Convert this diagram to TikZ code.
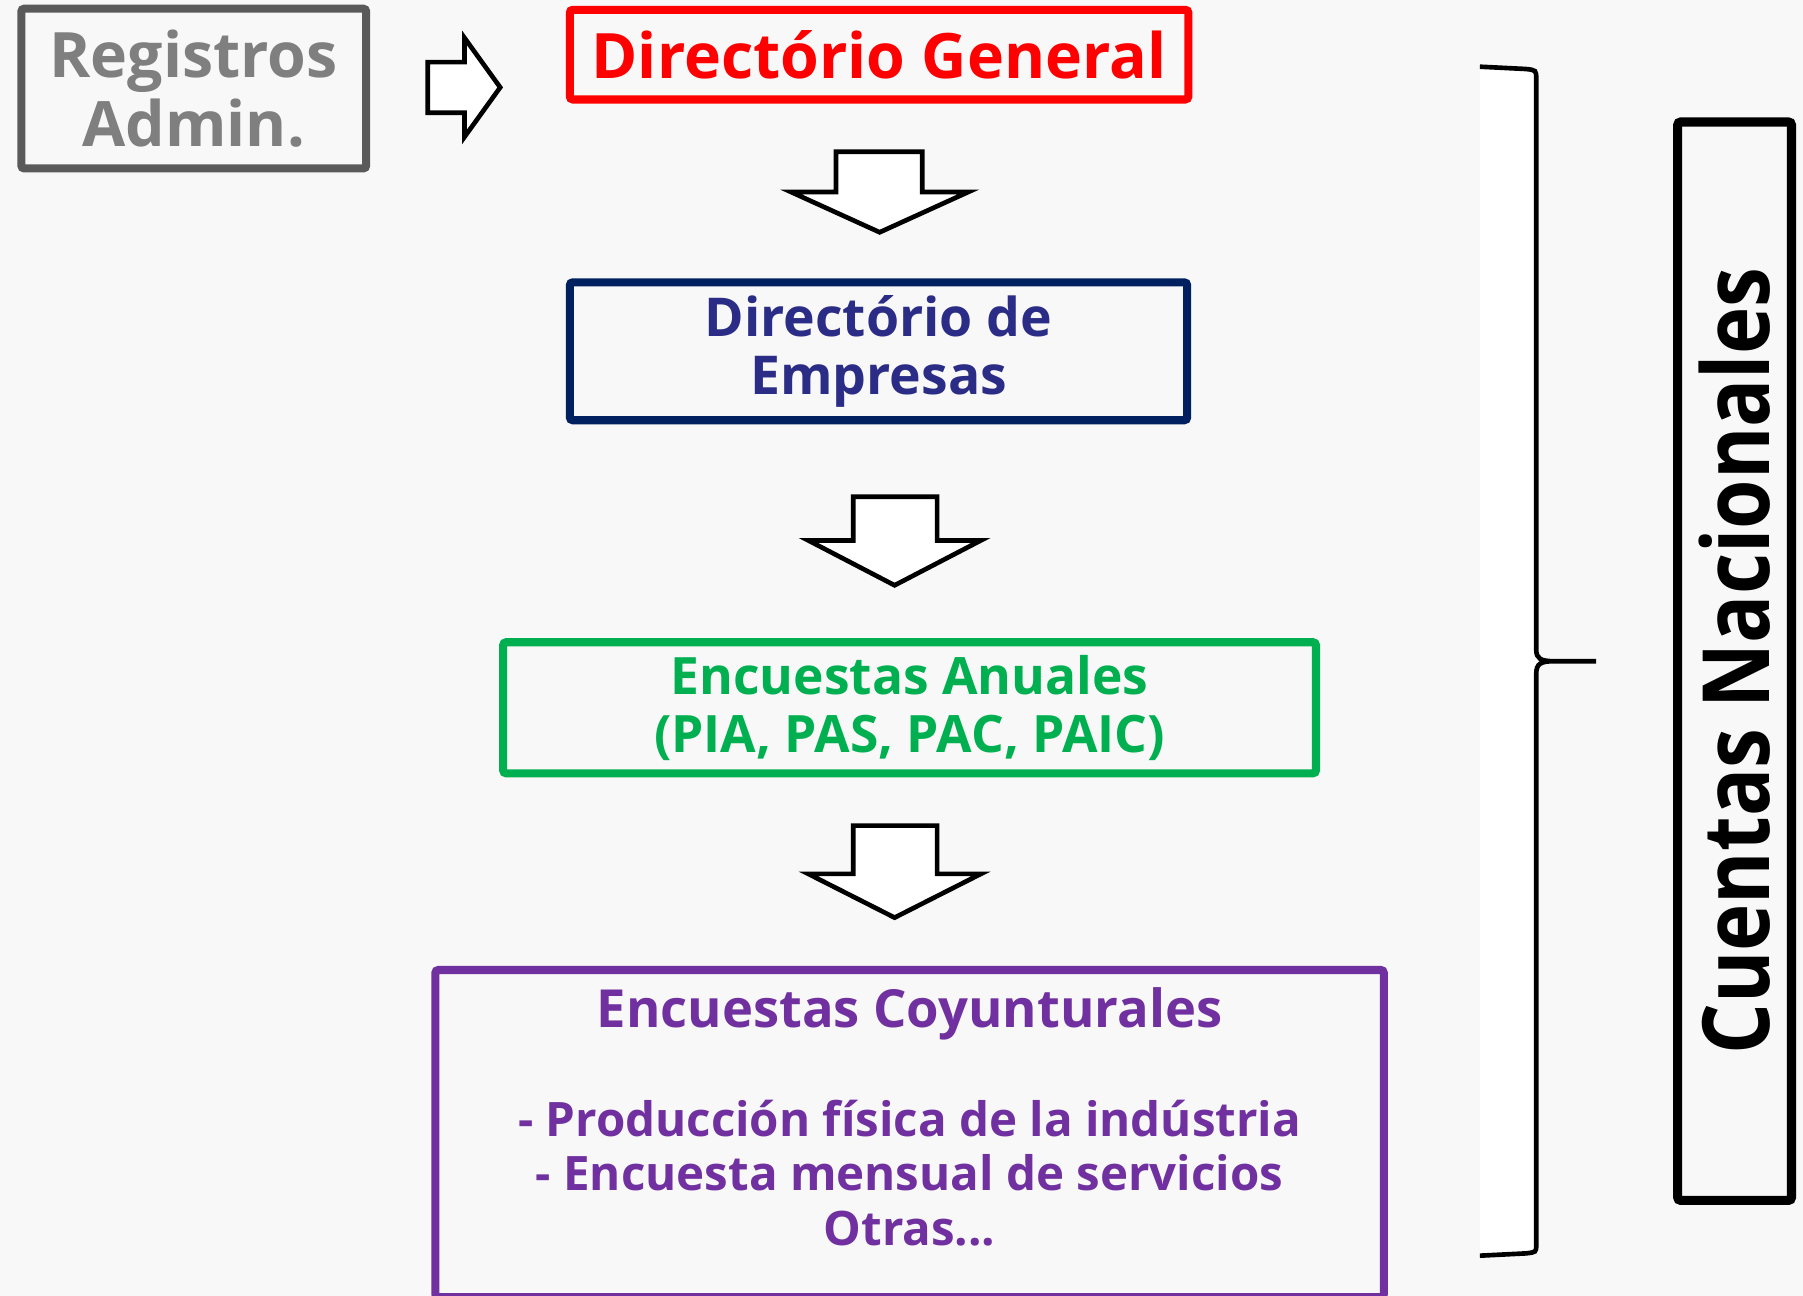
\documentclass[tikz,border=0pt]{standalone}
\usepackage{fontspec}
\setmainfont{Open Sans}
\newfontfamily\narrowfont[FakeStretch=0.86]{Open Sans}
\usetikzlibrary{positioning}
\definecolor{bgcol}{HTML}{F8F8F8}
\definecolor{regline}{HTML}{5A5A5A}
\definecolor{regtext}{HTML}{7F7F7F}
\definecolor{navyline}{HTML}{002060}
\definecolor{navytext}{HTML}{2A2C86}
\definecolor{anugreen}{HTML}{00B050}
\definecolor{coypurple}{HTML}{7030A0}

\begin{document}
\begin{tikzpicture}[x=0.02cm, y=-0.02cm,
    box/.style={draw, line width=4pt, rounded corners=1.5pt, align=center, inner sep=0pt, font=\bfseries},
    hollow/.style={draw=black, line width=2.3pt, fill=white, line join=miter}]
    % background
    \fill[bgcol] (0,0) rectangle (1568,1127);
    \useasboundingbox (0,0) rectangle (1568,1127);

    % boxes
    \draw (168.5,77) node[box, draw=regline, text=regtext, minimum width=6cm, minimum height=2.78cm,
        font=\bfseries\fontsize{31}{34}\selectfont] (reg) {Registros\\Admin.};
    \draw (764.5,47.5) node[box, draw=red, text=red, minimum width=10.76cm, minimum height=1.56cm,
        font=\bfseries\fontsize{31}{34}\selectfont] (dirgen) {Directório General};
    \draw (764,305.5) node[box, draw=navyline, text=navytext, minimum width=10.74cm, minimum height=2.4cm,
        font=\bfseries\fontsize{26.5}{28.5}\selectfont] (dirend) {Directório de\\Empresas};
    \draw (791,615.5) node[box, draw=anugreen, text=anugreen, minimum width=14.14cm, minimum height=2.28cm,
        font=\bfseries\fontsize{25.5}{28.5}\selectfont] (encanu) {Encuestas Anuales\\(PIA, PAS, PAC, PAIC)};
    \draw (791,985.75) node[box, draw=coypurple, minimum width=16.5cm, minimum height=5.69cm] (enccoy) {};
    \node[below=0.25cm of enccoy.north, align=center, text=coypurple, font=\bfseries\fontsize{23.5}{27}\selectfont] (coytext)
        {{\fontsize{26}{27}\selectfont Encuestas Coyunturales}\\[27pt]
         - Producción física de la indústria\\
         - Encuesta mensual de servicios\\
         Otras...};
    \draw (1508.5,575) node[box, draw=black, line width=4.5pt, minimum width=1.98cm, minimum height=18.76cm] (cuentas) {};
    \node[rotate=90, font=\narrowfont\bfseries\fontsize{46}{50}\selectfont] (cuentastext) at (cuentas.center) {Cuentas Nacionales};

    % block arrows
    \draw[hollow] (372,54) -- (404,54) -- (404,33) -- (435,76) -- (404,119) -- (404,98) -- (372,98) -- cycle;
    \draw[hollow] (727,132) -- (802,132) -- (802,167) -- (842,167) -- (765,202) -- (688,167) -- (727,167) -- cycle;
    \draw[hollow] (742,432) -- (815,432) -- (815,470) -- (853,470) -- (778,509) -- (703,470) -- (742,470) -- cycle;
    \draw[hollow] (742,718) -- (815,718) -- (815,760) -- (853,760) -- (778,798) -- (703,760) -- (742,760) -- cycle;

    % brace
    \fill[white] (1287,57) -- (1330,59) -- (1337,66) -- (1337,1085) -- (1330,1091) -- (1287,1093) -- cycle;
    \draw[line width=2.3pt] (1287,58) -- (1327,60) .. controls (1336,61) .. (1336,69) -- (1336,565)
        .. controls (1336,573) and (1340,575) .. (1352,575) -- (1388,575)
        (1352,575) .. controls (1340,575) and (1336,577) .. (1336,586) -- (1336,1082)
        .. controls (1336,1089) .. (1327,1090) -- (1287,1092);
\end{tikzpicture}
\end{document}
